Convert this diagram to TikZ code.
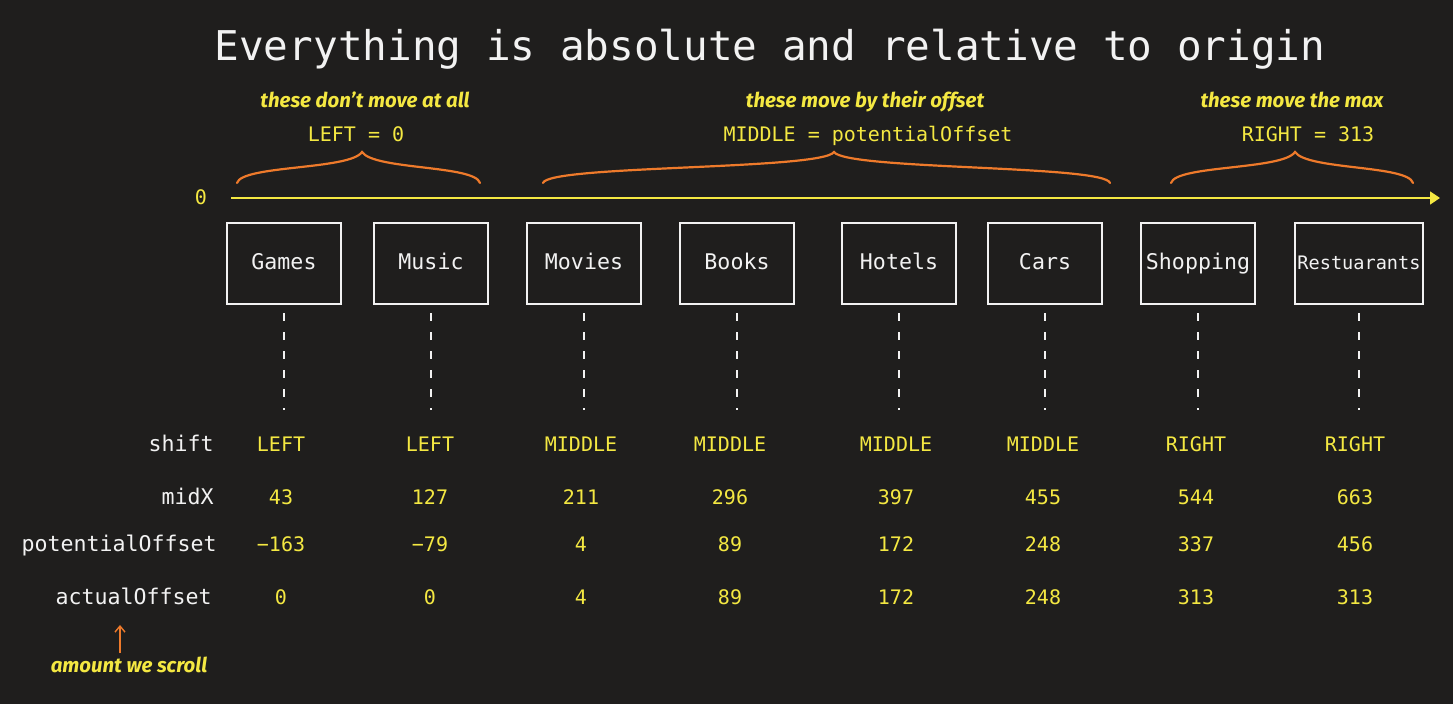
\documentclass[tikz,border=0pt]{standalone}
\usepackage{fontspec}
\setmonofont{DejaVu Sans Mono}
\newfontfamily\handfont{Fira Sans}
\usetikzlibrary{arrows.meta, positioning, calc}
\definecolor{bgcol}{HTML}{1F1E1D}
\definecolor{hlyellow}{HTML}{F4E842}
\definecolor{bracecol}{HTML}{EE7A2B}
\definecolor{inkwhite}{HTML}{F2F2F2}

\begin{document}
\begin{tikzpicture}[
  x=0.5pt, y=-0.5pt,
  title/.style={text=inkwhite, font=\ttfamily\fontsize{20.5}{24}\selectfont, inner sep=0pt},
  catbox/.style={
    draw=inkwhite, line width=1pt, minimum height=40.5pt, text=inkwhite,
    inner sep=0pt, text height=1.34ex, text depth=0pt
  },
  hand/.style={text=hlyellow, font=\handfont\bfseries\itshape\fontsize{10.2}{12}\selectfont, inner sep=0pt},
  eqlbl/.style={text=hlyellow, font=\ttfamily\fontsize{10}{12}\selectfont, inner sep=0pt},
  rowlbl/.style={text=inkwhite, font=\ttfamily\fontsize{10.8}{13}\selectfont, inner sep=0pt},
  val/.style={text=hlyellow, font=\ttfamily\fontsize{10}{12}\selectfont, inner sep=0pt},
  guide/.style={inkwhite, line width=0.6pt, dash pattern=on 4pt off 5.5pt},
  axis/.style={-{Triangle[length=5pt, width=6.5pt]}, hlyellow, line width=0.8pt},
  brace/.style={bracecol, line width=1.1pt, line cap=round},
  ptr/.style={-{Straight Barb[length=3pt, width=5pt]}, bracecol, line width=0.7pt},
]

% ---------------------------------------------------------------
% coordinates are screen pixels: x to the right, y downwards
% ---------------------------------------------------------------
\fill[bgcol] (0,0) rectangle (1453,704);
\useasboundingbox (0,0) rectangle (1453,704);

\node[title, anchor=base] (title) at (770,61) {Everything is absolute and relative to origin};

% ===== origin axis =====
\node[val, anchor=base] (zero) at (201,205) {0};
\coordinate (axstart) at (231,198);
\coordinate (axend) at (1440,198);
\draw[axis] (axstart) -- (axend);

% ===== braces with their notes =====
\foreach \k/\l/\m/\r in {1/237/362/480, 2/543/834/1110, 3/1171/1295/1413}{
  \coordinate (br\k l) at (\l,183);
  \coordinate (br\k m) at (\m,152);
  \coordinate (br\k r) at (\r,183);
  \draw[brace] (br\k l) .. controls +(5,-18) and +(-12,18) .. (br\k m)
    .. controls +(12,18) and +(-5,-18) .. (br\k r);
}

\node[hand, anchor=base] (hd1) at (365,108) {these don’t move at all};
\node[hand, anchor=base] (hd2) at (865,108) {these move by their offset};
\node[hand, anchor=base] (hd3) at (1292,108) {these move the max};

\node[eqlbl, anchor=base] (eq1) at (356,142) {LEFT = 0};
\node[eqlbl, anchor=base] (eq2) at (868,142) {MIDDLE = potentialOffset};
\node[eqlbl, anchor=base] (eq3) at (1308,142) {RIGHT = 313};

% ===== row labels =====
\node[rowlbl, anchor=base east] (lshift) at (214,452) {shift};
\node[rowlbl, anchor=base east] (lmidx) at (214,505) {midX};
\node[rowlbl, anchor=base east] (lpot) at (217,552) {potentialOffset};
\node[rowlbl, anchor=base east] (lact) at (212,605) {actualOffset};

% ===== category boxes and their columns =====
\foreach \i/\lbl/\x/\w/\fs/\vx/\sh/\mx/\po/\ao in {
    1/Games/284/57/10.8/281/LEFT/43/−163/0,
    2/Music/431/57/10.8/430/LEFT/127/−79/0,
    3/Movies/584/57/10.8/581/MIDDLE/211/4/4,
    4/Books/737/57/10.8/730/MIDDLE/296/89/89,
    5/Hotels/899/57/10.8/896/MIDDLE/397/172/172,
    6/Cars/1045/57/10.8/1043/MIDDLE/455/248/248,
    7/Shopping/1198/57/10.8/1196/RIGHT/544/337/313,
    8/Restuarants/1359/64/9.3/1355/RIGHT/663/456/313}{
  \node[catbox, minimum width=\w pt, font=\ttfamily\fontsize{\fs}{13}\selectfont]
    (c\i) at (\x,264) {\lbl};
  \node[val, anchor=base] (sh\i) at (\vx,452) {\sh};
  \node[val, anchor=base] (mx\i) at (\vx,505) {\mx};
  \node[val, anchor=base] (po\i) at (\vx,552) {\po};
  \node[val, anchor=base] (ao\i) at (\vx,605) {\ao};
  \draw[guide, shorten <=4pt, shorten >=13.5pt] (c\i.south) -- (c\i.south |- sh\i.north);
}

% ===== scroll note =====
\node[hand, anchor=base] (scroll) at (129,673) {amount we scroll};
\coordinate (scrolltip) at (120,625);
\draw[ptr, shorten <=2pt] (scroll.north -| scrolltip) -- (scrolltip);

\end{tikzpicture}
\end{document}
